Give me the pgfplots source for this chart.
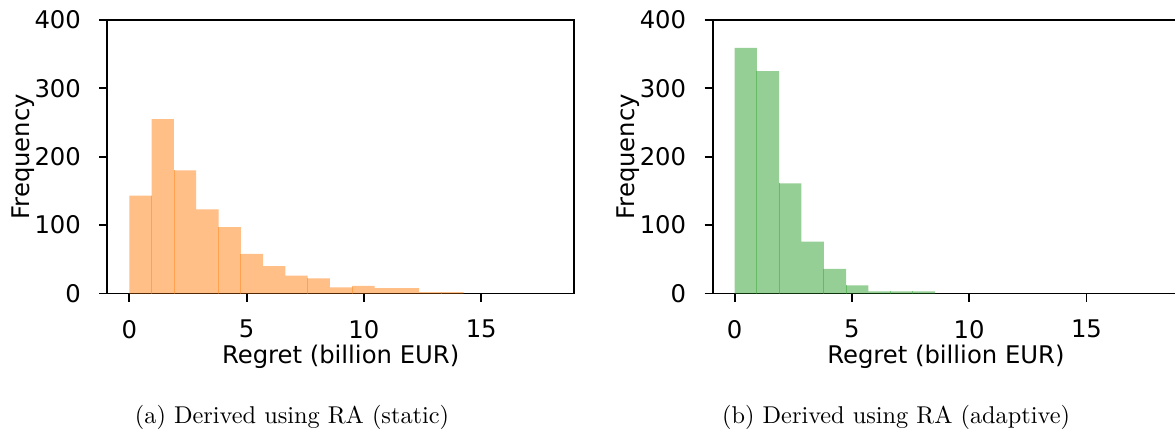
\documentclass[border=0pt]{standalone}
\usepackage{fontspec}
\usepackage{pgfplots}
\pgfplotsset{compat=1.18}
\newfontfamily\dv{DejaVu Sans}
\definecolor{cone}{HTML}{FF7F0E}
\definecolor{ctwo}{HTML}{2CA02C}
\pgfplotsset{
  histax/.style={
    scale only axis, width=192pt, height=112.6pt,
    xmin=-0.937, xmax=18.95, ymin=0, ymax=400,
    xtick={0,5,10,15}, ytick={0,100,200,300,400},
    tick align=outside, major tick length=3.3pt,
    xtick pos=bottom, ytick pos=left,
    axis line style={line width=0.8pt}, every tick/.style={line width=0.8pt, black},
    /pgf/number format/assume math mode=true,
    tick label style={font=\dv\fontsize{10}{12}\selectfont},
    label style={font=\dv\fontsize{10}{12}\selectfont},
    xticklabel style={anchor=north, inner sep=0pt, yshift=-7.4pt},
    yticklabel style={anchor=east, inner sep=0pt, xshift=-7.4pt},
    xlabel={Regret (billion EUR)}, ylabel={Frequency},
    xlabel style={at={([yshift=-28.8pt]axis description cs:0.5,0)}, anchor=base, inner sep=0pt},
    ylabel style={at={([xshift=-32pt]axis description cs:0,0.5)}, anchor=base, inner sep=0pt},
  }
}
\begin{document}
\begin{tikzpicture}
\begin{axis}[histax, at={(0pt,0pt)}, anchor=south west]
\addplot[ybar interval, fill=cone, fill opacity=0.5, draw=none] coordinates {
(0,143) (0.95,255) (1.9,180) (2.85,123) (3.8,97) (4.75,58) (5.7,40) (6.65,26) (7.6,22) (8.55,9) (9.5,11) (10.45,8) (11.4,8) (12.35,2) (13.3,2) (14.25,2)};
\addplot[ycomb, no marks, draw=cone, draw opacity=0.45, line width=0.35pt] coordinates {
(0.95,143) (1.9,180) (3.8,97) (4.75,58) (7.6,22) (9.5,9) (13.3,2)};
\end{axis}
\begin{axis}[histax, at={(249.1pt,0pt)}, anchor=south west]
\addplot[ybar interval, fill=ctwo, fill opacity=0.5, draw=none] coordinates {
(0,359) (0.95,325) (1.9,161) (2.85,76) (3.8,36) (4.75,12) (5.7,3) (6.65,3) (7.6,3) (8.55,3)};
\addplot[ycomb, no marks, draw=ctwo, draw opacity=0.45, line width=0.35pt] coordinates {
(0.95,325) (1.9,161) (3.8,36) (4.75,12) (6.65,3) (7.6,3)};
\end{axis}
\node[anchor=base, inner sep=0pt, font=\fontsize{10}{12}\selectfont] at (76pt,-53.3pt) {(a) Derived using RA (static)};
\node[anchor=base, inner sep=0pt, font=\fontsize{10}{12}\selectfont] at (324.6pt,-53.3pt) {(b) Derived using RA (adaptive)};
\pgfresetboundingbox
\useasboundingbox (-44.2pt,-57.8pt) rectangle (439.4pt,120.8pt);
\end{tikzpicture}
\end{document}
